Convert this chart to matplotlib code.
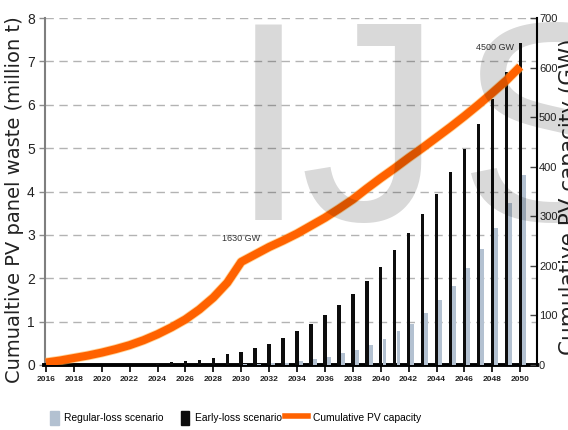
import matplotlib
matplotlib.use("Agg")
import matplotlib.pyplot as plt
from matplotlib import font_manager as fm
from matplotlib.patches import Rectangle, Patch
from matplotlib.lines import Line2D
from matplotlib.legend_handler import HandlerPatch
import matplotlib.patheffects as pe

# ---- data -------------------------------------------------------------
years = list(range(2016, 2051))

# cumulative panel waste, million tonnes
early_loss = [0, 0, 0, 0, 0, 0, 0, 0,
              0.03, 0.06, 0.09, 0.12, 0.17, 0.25, 0.29, 0.40, 0.49,
              0.63, 0.78, 0.95, 1.15, 1.38, 1.64, 1.94, 2.27,
              2.65, 3.05, 3.48, 3.94, 4.44, 4.98, 5.55, 6.14, 6.76, 7.42]
regular_loss = [0, 0, 0, 0, 0, 0, 0, 0,
                0, 0, 0, 0, 0.01, 0.01, 0.02, 0.03, 0.04,
                0.05, 0.09, 0.13, 0.19, 0.27, 0.34, 0.46, 0.59,
                0.78, 0.95, 1.21, 1.49, 1.82, 2.23, 2.67, 3.16, 3.74, 4.39]

# cumulative installed PV capacity, GW (right axis)
capacity_gw = [5, 9, 14, 19, 25, 32, 40, 50, 62, 76, 92, 112, 136, 166,
               208, 223, 238, 251, 265, 281, 297, 315, 334, 356, 377,
               397, 418, 438, 459, 480, 502, 525, 549, 574, 602]

x_ticks = list(range(2016, 2051, 2))
left_ticks = list(range(0, 9))
right_ticks = list(range(0, 701, 100))

series_labels = ["Regular-loss scenario", "Early-loss scenario",
                 "Cumulative PV capacity"]
callouts = {2030: "1630 GW", 2050: "4500 GW"}


# ---- fonts ------------------------------------------------------------
def small(size, weight="normal"):
    return fm.FontProperties(family="Liberation Sans", size=size,
                             weight=weight)


BLACK = "#0d0d0d"
STEEL = "#b3c1d1"
ORANGE = "#ff6200"
INK = "#222222"

W, H = 568, 430
fig = plt.figure(figsize=(W / 100, H / 100), dpi=100)
ax = fig.add_axes([44.5 / W, 65 / H, (537 - 44.5) / W, (365 - 18) / H])

# ---- bars (left axis) -------------------------------------------------
ax.bar(years, early_loss, width=0.25, color=BLACK, zorder=3)
ax.bar([y + 0.27 for y in years], regular_loss, width=0.28, color=STEEL,
       zorder=3)

ax.set_xlim(2015.9, 2051.2)
ax.set_ylim(0, 8)
ax.set_yticks(left_ticks)
ax.set_xticks(x_ticks)
ax.yaxis.grid(True, color="#b3b3b3", lw=1.0, linestyle=(0, (6, 4)))
ax.set_axisbelow(True)

for lab in ax.get_yticklabels():
    lab.set_fontproperties(small(10))
for lab in ax.get_xticklabels():
    lab.set_fontproperties(small(6, "bold"))

ax.tick_params(axis="y", direction="out", length=4, width=1,
               color="#8c8c8c", pad=3, labelcolor=INK)
ax.tick_params(axis="x", direction="out", length=5, width=1.2,
               color="black", pad=3, labelcolor=INK)

ax.set_ylabel("Cumualtive PV panel waste (million t)", family="DejaVu Sans",
              fontsize=12, color=INK)

# ---- capacity line (right axis) ---------------------------------------
ax2 = ax.twinx()
ax2.set_ylim(0, 700)
ax2.set_yticks(right_ticks)
for lab in ax2.get_yticklabels():
    lab.set_fontproperties(small(8))
ax2.tick_params(axis="y", direction="in", length=5, width=1,
                color="#444444", pad=1.5, labelcolor=INK)

ax2.plot(years, capacity_gw, color=ORANGE, lw=5.8, solid_joinstyle="round",
         solid_capstyle="butt", zorder=4,
         path_effects=[pe.Stroke(linewidth=7.0, foreground="#ffb347",
                                 alpha=0.55), pe.Normal()])

for yr, txt in callouts.items():
    i = years.index(yr)
    off = (0, 17) if yr == 2030 else (-18, 13.5)
    ax2.annotate(txt, xy=(yr, capacity_gw[i]), xytext=off,
                 textcoords="offset points", ha="center", va="center",
                 fontproperties=small(6.5), color="#333333", zorder=5)

ax2.set_ylabel("Cumulative PV capacity (GW)", family="DejaVu Sans",
               fontsize=12, color=INK, rotation=90)

# axis titles: centred on a given pixel, scaled to a given length
title_specs = [(ax, 15.0, 199.5, 365.0), (ax2, 569.0, 196.5, 315.0)]
fig.canvas.draw()
renderer = fig.canvas.get_renderer()
for a, cx, cy, length in title_specs:
    label = a.yaxis.label
    label.set_verticalalignment("center")
    label.set_horizontalalignment("center")
    cur = label.get_window_extent(renderer).height
    label.set_fontsize(label.get_fontsize() * length / cur)
    a.yaxis.set_label_coords((cx - 44.5) / (537 - 44.5),
                             (365 - cy) / (365 - 18))

# ---- spines -----------------------------------------------------------
for a in (ax, ax2):
    a.spines["top"].set_visible(False)
ax.spines["right"].set_visible(False)
ax2.spines["left"].set_visible(False)
ax2.spines["bottom"].set_visible(False)
ax.spines["left"].set_color("#7f7f7f")
ax.spines["left"].set_linewidth(1.5)
ax.spines["bottom"].set_color("black")
ax.spines["bottom"].set_linewidth(2.8)
ax2.spines["right"].set_color("black")
ax2.spines["right"].set_linewidth(1.5)


# ---- legend -----------------------------------------------------------
def slim_box(legend, orig_handle, xdescent, ydescent, width, height, fontsize):
    w = 6.0
    return Rectangle((width - w - xdescent, -ydescent), w, height)


handles = [Patch(color=STEEL), Patch(color=BLACK),
           Line2D([], [], color=ORANGE, lw=4)]
fig.legend(handles, series_labels, loc="center left",
           bbox_to_anchor=(36 / W, 1 - 418 / H), ncol=3, frameon=False,
           borderpad=0, borderaxespad=0,
           handlelength=2.2, handleheight=1.75, handletextpad=0.5,
           columnspacing=0.35, prop=small(7.4),
           handler_map={Patch: HandlerPatch(patch_func=slim_box)})

# ---- watermark --------------------------------------------------------
for ch, xpix in (("I", 229), ("J", 300), ("S", 457)):
    fig.text(xpix / W, 1 - 220 / H, ch, family="Liberation Sans",
             fontsize=205, color="black", alpha=0.15, ha="left",
             va="baseline", zorder=10)

fig.savefig("out.png", dpi=100)
